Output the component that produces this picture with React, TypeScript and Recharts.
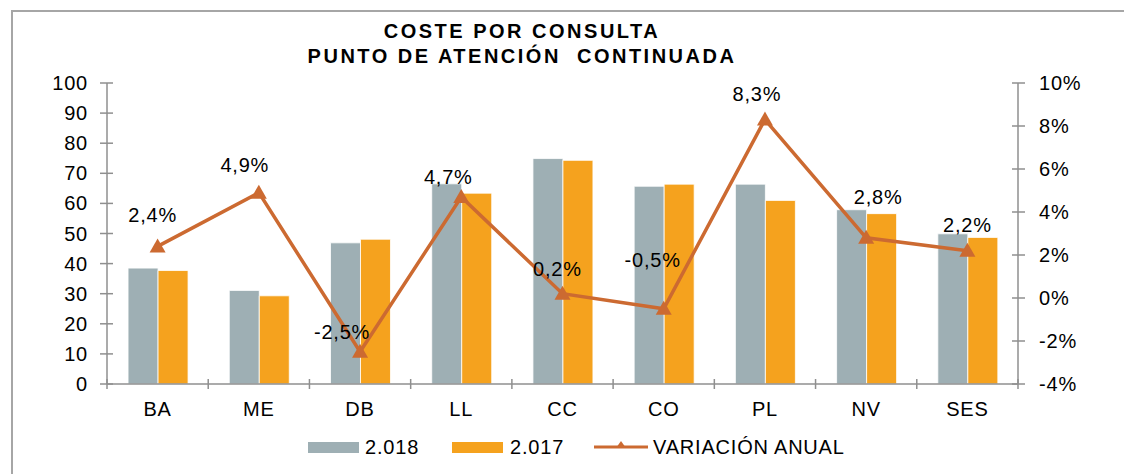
import React from "react";
import { ComposedChart, Bar, Line, XAxis, YAxis, LabelList } from "recharts";

const CATEGORIES = ["BA", "ME", "DB", "LL", "CC", "CO", "PL", "NV", "SES"];
const COST_2018 = [38.5, 31.1, 46.9, 66.5, 74.9, 65.7, 66.4, 57.9, 49.9];
const COST_2017 = [37.7, 29.3, 48.1, 63.4, 74.3, 66.4, 61.0, 56.6, 48.7];
const VARIATION = [2.4, 4.9, -2.5, 4.7, 0.2, -0.5, 8.3, 2.8, 2.2];
const LEFT_TICKS = [0, 10, 20, 30, 40, 50, 60, 70, 80, 90, 100];
const RIGHT_TICKS = [-4, -2, 0, 2, 4, 6, 8, 10];

// label nudges (dx, dy) from the marker, as placed by hand in the original
const LABEL_NUDGE: [number, number][] = [
  [-5, -31], [-14, -28], [-18, -20], [-13, -20], [-5, -25], [-11, -49], [-8, -26], [12, -41], [0, -26],
];

const GRAY = "#9EAFB4";
const ORANGE = "#F5A21E";
const LINE = "#CC6A31";
const AXIS = "#8F8F8F";
const FONT = "'Liberation Sans', Arial, sans-serif";
const FS = 20;
const LS = 0.8;

const data = CATEGORIES.map((name, i) => ({
  name,
  y2018: COST_2018[i],
  y2017: COST_2017[i],
  variation: VARIATION[i],
}));

const fmtPct = (v: number) => `${String(v).replace(".", ",")}%`;

function LeftTick({ x, y, payload }: any) {
  const axisX = x + 7 + 12;
  return (
    <g>
      <line x1={axisX} x2={axisX + 6} y1={y} y2={y} stroke={AXIS} strokeWidth={1.5} />
      <text x={x} y={y + 7} textAnchor="end" fontSize={FS} letterSpacing={LS} fill="#000" fontFamily={FONT}>
        {payload.value}
      </text>
    </g>
  );
}

function RightTick({ x, y, payload }: any) {
  const axisX = x - 7 - 14;
  return (
    <g>
      <line x1={axisX - 6} x2={axisX} y1={y} y2={y} stroke={AXIS} strokeWidth={1.5} />
      <text x={x} y={y + 7} textAnchor="start" fontSize={FS} letterSpacing={LS} fill="#000" fontFamily={FONT}>
        {payload.value}%
      </text>
    </g>
  );
}

function CatTick({ x, y, payload, index }: any) {
  const axisY = y - 10;
  const half = payload.offset || 101.2 / 2;
  return (
    <g>
      {index === 0 && <line x1={x - half} x2={x - half} y1={axisY - 5} y2={axisY + 5} stroke={AXIS} strokeWidth={1.5} />}
      <line x1={x + half} x2={x + half} y1={axisY - 5} y2={axisY + 5} stroke={AXIS} strokeWidth={1.5} />
      <text x={x} y={axisY + 32} textAnchor="middle" fontSize={FS} letterSpacing={LS} fill="#000" fontFamily={FONT}>
        {payload.value}
      </text>
    </g>
  );
}

function Triangle({ cx, cy }: any) {
  if (cx == null || cy == null) return null;
  return <path d={`M${cx},${cy - 8} L${cx + 8},${cy + 6} L${cx - 8},${cy + 6} Z`} fill={LINE} />;
}

function VarLabel({ x, y, value, index }: any) {
  const [dx, dy] = LABEL_NUDGE[index] || [0, -25];
  return (
    <text x={x + dx} y={y + dy + 7} textAnchor="middle" fontSize={FS} letterSpacing={LS} fill="#000" fontFamily={FONT}>
      {fmtPct(value)}
    </text>
  );
}

function LegendRow() {
  const text: React.CSSProperties = { position: "absolute", top: 435, fontSize: FS, letterSpacing: LS, color: "#000", fontFamily: FONT, lineHeight: "24px" };
  return (
    <>
      <div style={{ position: "absolute", left: 308, top: 442, width: 51, height: 11, background: GRAY }} />
      <div style={{ ...text, left: 365 }}>2.018</div>
      <div style={{ position: "absolute", left: 452, top: 442, width: 51, height: 11, background: ORANGE }} />
      <div style={{ ...text, left: 510 }}>2.017</div>
      <svg style={{ position: "absolute", left: 592, top: 437 }} width={58} height={20}>
        <line x1={2} x2={56} y1={10} y2={10} stroke={LINE} strokeWidth={3} />
        <path d="M29,4 L34,11 L24,11 Z" fill={LINE} />
      </svg>
      <div style={{ ...text, left: 653 }}>VARIACIÓN ANUAL</div>
    </>
  );
}

export default function App() {
  return (
    <div style={{ position: "absolute", left: 0, top: 0, width: 1124, height: 474, overflow: "hidden", background: "#fff", fontFamily: FONT }}>
      <div style={{ position: "absolute", left: 11, top: 10, width: 1300, height: 700, border: "2px solid #A6A6A6" }} />
      <div style={{ position: "absolute", left: 0, width: 1044, top: 19, textAlign: "center", fontWeight: 700, fontSize: 20, letterSpacing: 2.5, color: "#000", lineHeight: "25px" }}>
        <div>COSTE POR CONSULTA</div>
        <div>PUNTO DE ATENCIÓN&nbsp; CONTINUADA</div>
      </div>
      <div style={{ position: "absolute", left: 0, top: 0 }}>
        <ComposedChart width={1124} height={474} data={data} margin={{ top: 83, right: 0, left: 0, bottom: 0 }} barCategoryGap="20.8%" barGap={0}>
          <XAxis dataKey="name" height={90} tickLine={false} tickSize={5} tickMargin={5} stroke={AXIS} strokeWidth={1.5} tick={<CatTick />} interval={0} />
          <YAxis yAxisId="left" orientation="left" width={107} domain={[0, 100]} ticks={LEFT_TICKS} tickSize={7} tickMargin={12} stroke={AXIS} strokeWidth={1.5} tick={<LeftTick />} interval={0} />
          <YAxis yAxisId="right" orientation="right" width={106} domain={[-4, 10]} ticks={RIGHT_TICKS} tickSize={7} tickMargin={14} stroke={AXIS} strokeWidth={1.5} tick={<RightTick />} interval={0} />
          <Bar yAxisId="left" dataKey="y2018" name="2.018" fill={GRAY} stroke="#ffffff" strokeWidth={0.8} isAnimationActive={false} />
          <Bar yAxisId="left" dataKey="y2017" name="2.017" fill={ORANGE} stroke="#ffffff" strokeWidth={0.8} isAnimationActive={false} />
          <Line yAxisId="right" dataKey="variation" name="VARIACIÓN ANUAL" stroke={LINE} strokeWidth={3.5} dot={<Triangle />} activeDot={false} isAnimationActive={false}>
            <LabelList dataKey="variation" content={<VarLabel />} />
          </Line>
        </ComposedChart>
      </div>
      <LegendRow />
    </div>
  );
}
